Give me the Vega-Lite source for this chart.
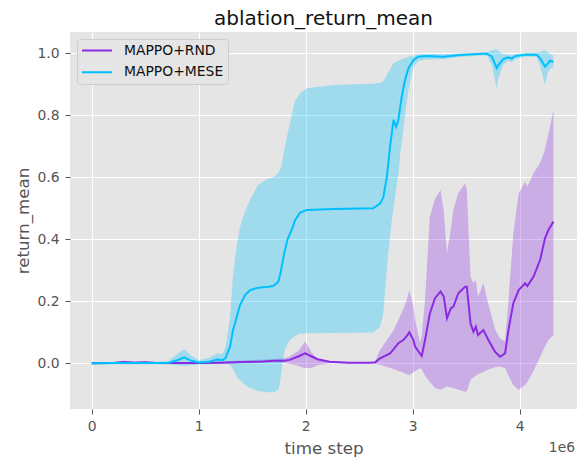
{
  "$schema": "https://vega.github.io/schema/vega-lite/v6.json",
  "width": 507,
  "height": 377,
  "autosize": {"type": "none"},
  "padding": {"left": 70, "top": 32, "right": 4, "bottom": 49},
  "background": "white",
  "title": {"text": "ablation_return_mean", "font": "DejaVu Sans", "fontSize": 20, "fontWeight": "normal", "color": "#111111", "anchor": "middle", "baseline": "bottom", "offset": -17},
  "config": {
    "view": {"fill": "#E5E5E5", "stroke": null},
    "font": "DejaVu Sans",
    "axis": {
      "domain": false, "grid": true, "gridColor": "#FFFFFF", "gridWidth": 1.1,
      "tickColor": "#555555", "tickSize": 5, "tickWidth": 1,
      "labelFont": "DejaVu Sans", "labelFontSize": 13.9, "labelColor": "#555555",
      "titleFont": "DejaVu Sans", "titleFontSize": 16.7, "titleFontWeight": "normal", "titleColor": "#555555"
    },
    "legend": {
      "orient": "top-left", "offset": 7, "title": null,
      "fillColor": "#E5E5E5", "strokeColor": "#CCCCCC", "cornerRadius": 3, "padding": 4,
      "symbolType": "stroke", "symbolSize": 900, "symbolStrokeWidth": 2, "symbolOpacity": 1, "clipHeight": 15,
      "rowPadding": 6.7, "labelOffset": 11, "labelFont": "DejaVu Sans", "labelFontSize": 13.9, "labelColor": "#111111"
    }
  },
  "datasets": {
    "runs": [
      {"s": "MAPPO+RND", "t": 0.0, "m": 0.000, "lo": -0.002, "hi": 0.002},
      {"s": "MAPPO+RND", "t": 0.2, "m": 0.001, "lo": -0.002, "hi": 0.004},
      {"s": "MAPPO+RND", "t": 0.3, "m": 0.004, "lo": -0.001, "hi": 0.008},
      {"s": "MAPPO+RND", "t": 0.4, "m": 0.002, "lo": -0.002, "hi": 0.006},
      {"s": "MAPPO+RND", "t": 0.5, "m": 0.003, "lo": -0.001, "hi": 0.007},
      {"s": "MAPPO+RND", "t": 0.6, "m": 0.001, "lo": -0.002, "hi": 0.004},
      {"s": "MAPPO+RND", "t": 0.8, "m": 0.001, "lo": -0.002, "hi": 0.004},
      {"s": "MAPPO+RND", "t": 1.0, "m": 0.001, "lo": -0.002, "hi": 0.004},
      {"s": "MAPPO+RND", "t": 1.2, "m": 0.002, "lo": -0.002, "hi": 0.006},
      {"s": "MAPPO+RND", "t": 1.4, "m": 0.004, "lo": 0.000, "hi": 0.009},
      {"s": "MAPPO+RND", "t": 1.6, "m": 0.006, "lo": 0.001, "hi": 0.012},
      {"s": "MAPPO+RND", "t": 1.7, "m": 0.008, "lo": 0.002, "hi": 0.014},
      {"s": "MAPPO+RND", "t": 1.8, "m": 0.008, "lo": 0.001, "hi": 0.016},
      {"s": "MAPPO+RND", "t": 1.85, "m": 0.011, "lo": -0.002, "hi": 0.022},
      {"s": "MAPPO+RND", "t": 1.93, "m": 0.022, "lo": -0.008, "hi": 0.040},
      {"s": "MAPPO+RND", "t": 1.994, "m": 0.032, "lo": -0.016, "hi": 0.070},
      {"s": "MAPPO+RND", "t": 2.056, "m": 0.022, "lo": -0.014, "hi": 0.035},
      {"s": "MAPPO+RND", "t": 2.11, "m": 0.013, "lo": -0.006, "hi": 0.015},
      {"s": "MAPPO+RND", "t": 2.22, "m": 0.005, "lo": 0.000, "hi": 0.008},
      {"s": "MAPPO+RND", "t": 2.4, "m": 0.002, "lo": 0.000, "hi": 0.004},
      {"s": "MAPPO+RND", "t": 2.6, "m": 0.002, "lo": 0.000, "hi": 0.004},
      {"s": "MAPPO+RND", "t": 2.65, "m": 0.003, "lo": -0.002, "hi": 0.008},
      {"s": "MAPPO+RND", "t": 2.694, "m": 0.016, "lo": -0.005, "hi": 0.043},
      {"s": "MAPPO+RND", "t": 2.788, "m": 0.032, "lo": -0.015, "hi": 0.090},
      {"s": "MAPPO+RND", "t": 2.82, "m": 0.045, "lo": -0.018, "hi": 0.107},
      {"s": "MAPPO+RND", "t": 2.866, "m": 0.065, "lo": -0.025, "hi": 0.140},
      {"s": "MAPPO+RND", "t": 2.912, "m": 0.075, "lo": -0.030, "hi": 0.175},
      {"s": "MAPPO+RND", "t": 2.944, "m": 0.088, "lo": -0.035, "hi": 0.204},
      {"s": "MAPPO+RND", "t": 2.968, "m": 0.100, "lo": -0.038, "hi": 0.236},
      {"s": "MAPPO+RND", "t": 3.006, "m": 0.075, "lo": -0.030, "hi": 0.183},
      {"s": "MAPPO+RND", "t": 3.022, "m": 0.054, "lo": -0.025, "hi": 0.140},
      {"s": "MAPPO+RND", "t": 3.07, "m": 0.030, "lo": -0.016, "hi": 0.065},
      {"s": "MAPPO+RND", "t": 3.084, "m": 0.024, "lo": -0.020, "hi": 0.090},
      {"s": "MAPPO+RND", "t": 3.115, "m": 0.075, "lo": -0.040, "hi": 0.204},
      {"s": "MAPPO+RND", "t": 3.16, "m": 0.161, "lo": -0.060, "hi": 0.473},
      {"s": "MAPPO+RND", "t": 3.208, "m": 0.210, "lo": -0.080, "hi": 0.530},
      {"s": "MAPPO+RND", "t": 3.26, "m": 0.232, "lo": -0.085, "hi": 0.559},
      {"s": "MAPPO+RND", "t": 3.29, "m": 0.215, "lo": -0.080, "hi": 0.490},
      {"s": "MAPPO+RND", "t": 3.32, "m": 0.145, "lo": -0.075, "hi": 0.355},
      {"s": "MAPPO+RND", "t": 3.355, "m": 0.177, "lo": -0.078, "hi": 0.430},
      {"s": "MAPPO+RND", "t": 3.38, "m": 0.183, "lo": -0.080, "hi": 0.495},
      {"s": "MAPPO+RND", "t": 3.426, "m": 0.226, "lo": -0.085, "hi": 0.550},
      {"s": "MAPPO+RND", "t": 3.489, "m": 0.247, "lo": -0.092, "hi": 0.580},
      {"s": "MAPPO+RND", "t": 3.505, "m": 0.247, "lo": -0.090, "hi": 0.560},
      {"s": "MAPPO+RND", "t": 3.54, "m": 0.129, "lo": -0.054, "hi": 0.279},
      {"s": "MAPPO+RND", "t": 3.567, "m": 0.102, "lo": -0.045, "hi": 0.258},
      {"s": "MAPPO+RND", "t": 3.59, "m": 0.118, "lo": -0.040, "hi": 0.269},
      {"s": "MAPPO+RND", "t": 3.61, "m": 0.091, "lo": -0.035, "hi": 0.215},
      {"s": "MAPPO+RND", "t": 3.66, "m": 0.107, "lo": -0.027, "hi": 0.258},
      {"s": "MAPPO+RND", "t": 3.707, "m": 0.075, "lo": -0.020, "hi": 0.190},
      {"s": "MAPPO+RND", "t": 3.769, "m": 0.037, "lo": -0.013, "hi": 0.110},
      {"s": "MAPPO+RND", "t": 3.816, "m": 0.021, "lo": -0.011, "hi": 0.080},
      {"s": "MAPPO+RND", "t": 3.863, "m": 0.032, "lo": -0.015, "hi": 0.070},
      {"s": "MAPPO+RND", "t": 3.894, "m": 0.107, "lo": -0.040, "hi": 0.200},
      {"s": "MAPPO+RND", "t": 3.94, "m": 0.194, "lo": -0.070, "hi": 0.419},
      {"s": "MAPPO+RND", "t": 3.99, "m": 0.236, "lo": -0.086, "hi": 0.548},
      {"s": "MAPPO+RND", "t": 4.05, "m": 0.258, "lo": -0.070, "hi": 0.586},
      {"s": "MAPPO+RND", "t": 4.071, "m": 0.249, "lo": -0.060, "hi": 0.570},
      {"s": "MAPPO+RND", "t": 4.128, "m": 0.279, "lo": -0.025, "hi": 0.613},
      {"s": "MAPPO+RND", "t": 4.19, "m": 0.333, "lo": 0.020, "hi": 0.645},
      {"s": "MAPPO+RND", "t": 4.236, "m": 0.403, "lo": 0.055, "hi": 0.690},
      {"s": "MAPPO+RND", "t": 4.268, "m": 0.430, "lo": 0.075, "hi": 0.740},
      {"s": "MAPPO+RND", "t": 4.315, "m": 0.457, "lo": 0.091, "hi": 0.817},
      {"s": "MAPPO+MESE", "t": 0.0, "m": 0.000, "lo": -0.003, "hi": 0.003},
      {"s": "MAPPO+MESE", "t": 0.2, "m": 0.001, "lo": -0.003, "hi": 0.004},
      {"s": "MAPPO+MESE", "t": 0.4, "m": 0.001, "lo": -0.003, "hi": 0.005},
      {"s": "MAPPO+MESE", "t": 0.6, "m": 0.001, "lo": -0.003, "hi": 0.005},
      {"s": "MAPPO+MESE", "t": 0.72, "m": 0.002, "lo": -0.004, "hi": 0.008},
      {"s": "MAPPO+MESE", "t": 0.8, "m": 0.010, "lo": -0.006, "hi": 0.030},
      {"s": "MAPPO+MESE", "t": 0.865, "m": 0.019, "lo": -0.009, "hi": 0.045},
      {"s": "MAPPO+MESE", "t": 0.93, "m": 0.008, "lo": -0.006, "hi": 0.025},
      {"s": "MAPPO+MESE", "t": 1.0, "m": 0.003, "lo": -0.004, "hi": 0.010},
      {"s": "MAPPO+MESE", "t": 1.1, "m": 0.005, "lo": -0.003, "hi": 0.018},
      {"s": "MAPPO+MESE", "t": 1.17, "m": 0.012, "lo": -0.002, "hi": 0.032},
      {"s": "MAPPO+MESE", "t": 1.22, "m": 0.010, "lo": -0.002, "hi": 0.030},
      {"s": "MAPPO+MESE", "t": 1.25, "m": 0.017, "lo": 0.000, "hi": 0.050},
      {"s": "MAPPO+MESE", "t": 1.293, "m": 0.054, "lo": -0.005, "hi": 0.150},
      {"s": "MAPPO+MESE", "t": 1.32, "m": 0.107, "lo": -0.020, "hi": 0.280},
      {"s": "MAPPO+MESE", "t": 1.34, "m": 0.130, "lo": -0.032, "hi": 0.340},
      {"s": "MAPPO+MESE", "t": 1.355, "m": 0.150, "lo": -0.043, "hi": 0.380},
      {"s": "MAPPO+MESE", "t": 1.386, "m": 0.188, "lo": -0.055, "hi": 0.440},
      {"s": "MAPPO+MESE", "t": 1.433, "m": 0.220, "lo": -0.070, "hi": 0.490},
      {"s": "MAPPO+MESE", "t": 1.48, "m": 0.236, "lo": -0.080, "hi": 0.527},
      {"s": "MAPPO+MESE", "t": 1.557, "m": 0.244, "lo": -0.089, "hi": 0.577},
      {"s": "MAPPO+MESE", "t": 1.65, "m": 0.247, "lo": -0.093, "hi": 0.595},
      {"s": "MAPPO+MESE", "t": 1.697, "m": 0.249, "lo": -0.094, "hi": 0.600},
      {"s": "MAPPO+MESE", "t": 1.744, "m": 0.263, "lo": -0.085, "hi": 0.615},
      {"s": "MAPPO+MESE", "t": 1.76, "m": 0.285, "lo": -0.060, "hi": 0.625},
      {"s": "MAPPO+MESE", "t": 1.776, "m": 0.312, "lo": -0.020, "hi": 0.640},
      {"s": "MAPPO+MESE", "t": 1.79, "m": 0.340, "lo": 0.020, "hi": 0.670},
      {"s": "MAPPO+MESE", "t": 1.806, "m": 0.365, "lo": 0.045, "hi": 0.700},
      {"s": "MAPPO+MESE", "t": 1.83, "m": 0.400, "lo": 0.065, "hi": 0.740},
      {"s": "MAPPO+MESE", "t": 1.869, "m": 0.430, "lo": 0.080, "hi": 0.800},
      {"s": "MAPPO+MESE", "t": 1.9, "m": 0.462, "lo": 0.088, "hi": 0.845},
      {"s": "MAPPO+MESE", "t": 1.947, "m": 0.486, "lo": 0.095, "hi": 0.871},
      {"s": "MAPPO+MESE", "t": 2.01, "m": 0.4945, "lo": 0.097, "hi": 0.887},
      {"s": "MAPPO+MESE", "t": 2.258, "m": 0.498, "lo": 0.098, "hi": 0.898},
      {"s": "MAPPO+MESE", "t": 2.63, "m": 0.500, "lo": 0.099, "hi": 0.902},
      {"s": "MAPPO+MESE", "t": 2.694, "m": 0.515, "lo": 0.118, "hi": 0.905},
      {"s": "MAPPO+MESE", "t": 2.725, "m": 0.535, "lo": 0.161, "hi": 0.910},
      {"s": "MAPPO+MESE", "t": 2.757, "m": 0.600, "lo": 0.301, "hi": 0.930},
      {"s": "MAPPO+MESE", "t": 2.772, "m": 0.645, "lo": 0.360, "hi": 0.940},
      {"s": "MAPPO+MESE", "t": 2.788, "m": 0.700, "lo": 0.408, "hi": 0.946},
      {"s": "MAPPO+MESE", "t": 2.804, "m": 0.742, "lo": 0.462, "hi": 0.958},
      {"s": "MAPPO+MESE", "t": 2.82, "m": 0.785, "lo": 0.500, "hi": 0.968},
      {"s": "MAPPO+MESE", "t": 2.844, "m": 0.763, "lo": 0.560, "hi": 0.972},
      {"s": "MAPPO+MESE", "t": 2.866, "m": 0.785, "lo": 0.610, "hi": 0.975},
      {"s": "MAPPO+MESE", "t": 2.88, "m": 0.820, "lo": 0.666, "hi": 0.978},
      {"s": "MAPPO+MESE", "t": 2.897, "m": 0.860, "lo": 0.710, "hi": 0.981},
      {"s": "MAPPO+MESE", "t": 2.928, "m": 0.914, "lo": 0.800, "hi": 0.985},
      {"s": "MAPPO+MESE", "t": 2.96, "m": 0.952, "lo": 0.882, "hi": 0.989},
      {"s": "MAPPO+MESE", "t": 3.006, "m": 0.978, "lo": 0.957, "hi": 0.993},
      {"s": "MAPPO+MESE", "t": 3.05, "m": 0.989, "lo": 0.975, "hi": 0.996},
      {"s": "MAPPO+MESE", "t": 3.13, "m": 0.991, "lo": 0.980, "hi": 0.998},
      {"s": "MAPPO+MESE", "t": 3.286, "m": 0.989, "lo": 0.982, "hi": 0.997},
      {"s": "MAPPO+MESE", "t": 3.44, "m": 0.9945, "lo": 0.988, "hi": 0.999},
      {"s": "MAPPO+MESE", "t": 3.69, "m": 0.999, "lo": 0.994, "hi": 1.002},
      {"s": "MAPPO+MESE", "t": 3.738, "m": 0.990, "lo": 0.965, "hi": 1.010},
      {"s": "MAPPO+MESE", "t": 3.785, "m": 0.952, "lo": 0.887, "hi": 1.013},
      {"s": "MAPPO+MESE", "t": 3.80, "m": 0.962, "lo": 0.920, "hi": 1.008},
      {"s": "MAPPO+MESE", "t": 3.847, "m": 0.981, "lo": 0.965, "hi": 0.997},
      {"s": "MAPPO+MESE", "t": 3.893, "m": 0.987, "lo": 0.975, "hi": 0.996},
      {"s": "MAPPO+MESE", "t": 3.925, "m": 0.983, "lo": 0.972, "hi": 0.994},
      {"s": "MAPPO+MESE", "t": 3.956, "m": 0.991, "lo": 0.982, "hi": 0.998},
      {"s": "MAPPO+MESE", "t": 4.065, "m": 0.996, "lo": 0.990, "hi": 1.000},
      {"s": "MAPPO+MESE", "t": 4.16, "m": 0.995, "lo": 0.988, "hi": 1.000},
      {"s": "MAPPO+MESE", "t": 4.19, "m": 0.984, "lo": 0.960, "hi": 1.005},
      {"s": "MAPPO+MESE", "t": 4.236, "m": 0.957, "lo": 0.898, "hi": 1.010},
      {"s": "MAPPO+MESE", "t": 4.26, "m": 0.966, "lo": 0.935, "hi": 1.004},
      {"s": "MAPPO+MESE", "t": 4.283, "m": 0.976, "lo": 0.950, "hi": 0.998},
      {"s": "MAPPO+MESE", "t": 4.314, "m": 0.973, "lo": 0.955, "hi": 0.993}
    ],
    "mult": [{"label": "1e6"}]
  },
  "data": {"name": "runs"},
  "layer": [
    {
      "mark": {"type": "area", "opacity": 0.3},
      "encoding": {
        "x": {"field": "t", "type": "quantitative", "scale": {"domain": [-0.203, 4.535], "nice": false, "zero": false},
              "axis": {"values": [0, 1, 2, 3, 4], "format": "d", "title": "time step", "labelPadding": 5, "titlePadding": 8}},
        "y": {"field": "lo", "type": "quantitative", "scale": {"domain": [-0.1474, 1.0687], "nice": false, "zero": false},
              "axis": {"values": [0, 0.2, 0.4, 0.6, 0.8, 1.0], "format": ".1f", "title": "return_mean", "labelPadding": 6, "titlePadding": 4}},
        "y2": {"field": "hi"},
        "color": {"field": "s", "type": "nominal",
                  "scale": {"domain": ["MAPPO+RND", "MAPPO+MESE"], "range": ["#8A2BE2", "#00BFFF"]}}
      }
    },
    {
      "mark": {"type": "line", "strokeWidth": 2},
      "encoding": {
        "x": {"field": "t", "type": "quantitative"},
        "y": {"field": "m", "type": "quantitative"},
        "color": {"field": "s", "type": "nominal"}
      }
    },
    {
      "data": {"name": "mult"},
      "mark": {"type": "text", "align": "right", "baseline": "middle", "fontSize": 13.9, "font": "DejaVu Sans", "color": "#555555"},
      "encoding": {
        "x": {"datum": 4.517, "type": "quantitative"},
        "y": {"datum": -0.272, "type": "quantitative"},
        "text": {"field": "label"}
      }
    }
  ]
}
